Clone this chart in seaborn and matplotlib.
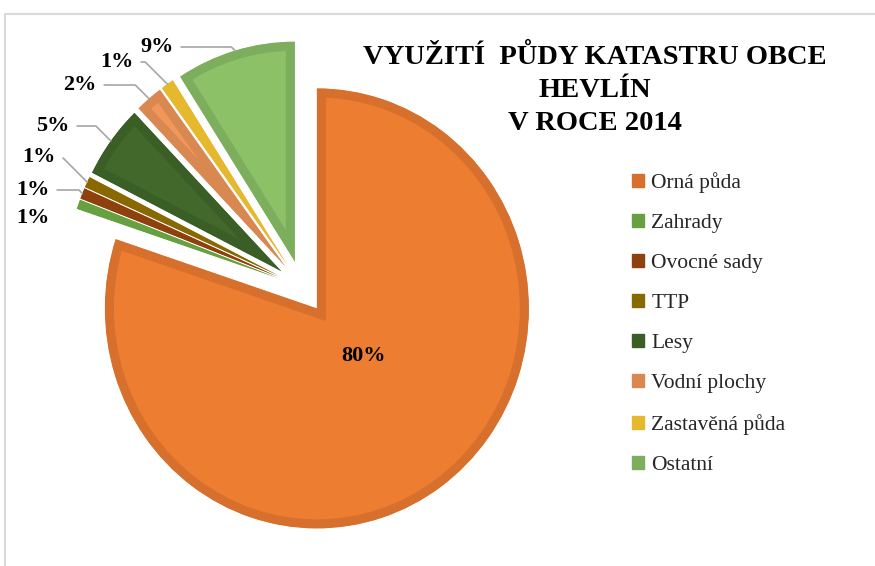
import matplotlib
matplotlib.use("Agg")
import matplotlib.pyplot as plt
from matplotlib.patches import Patch, Rectangle
import numpy as np
import seaborn as sns

# --- Data (shares in %) ---
categories = ["Orná půda", "Zahrady", "Ovocné sady", "TTP", "Lesy",
              "Vodní plochy", "Zastavěná půda", "Ostatní"]
shares = [80.1, 0.7, 0.8, 0.8, 5.4, 2.1, 1.0, 9.1]
fill_colors = ["#ED7D31", "#70AD47", "#9E480E", "#997300", "#43682B",
               "#F1975A", "#EFBF36", "#8CC168"]
edge_colors = ["#D6702C", "#66A040", "#8F410D", "#8A6800", "#3B5E26",
               "#DA8852", "#E6B82E", "#7DAE5E"]
title = "VYUŽITÍ  PŮDY KATASTRU OBCE\nHEVLÍN\nV ROCE 2014"

# label positions (pixels from top-left of the picture)
label_px = [(364, 356), (33, 218), (33, 190), (39, 157), (53, 126),
            (80, 85), (117, 62), (157, 47)]
no_leader = {"Orná půda", "Zahrady"}

# --- Layout ---
W, H = 875, 566
CX, CY = 302, 287   # pie centre in pixels
SX, SY = 212, 220   # pixels per radius unit (source pie is slightly squeezed)

sns.set_theme(style="white")
plt.rcParams["font.family"] = ["Liberation Serif", "DejaVu Serif"]

fig = plt.figure(figsize=(W / 100, H / 100), dpi=100)
ax = fig.add_axes([0, 0, 1, 1])

wedges, _ = ax.pie(
    shares,
    colors=fill_colors,
    startangle=90,
    counterclock=False,
    explode=[0.12] * len(shares),
    radius=1,
    wedgeprops=dict(linewidth=13),
)
# thick darker outline, kept inside each slice
for w, ec in zip(wedges, edge_colors):
    w.set_edgecolor(ec)
    w.set_clip_path(w)
    w.set_clip_on(True)

ax.set_aspect("auto")
ax.set_xlim(-CX / SX, (W - CX) / SX)
ax.set_ylim((CY - H) / SY, CY / SY)
ax.axis("off")


def to_data(x, y):
    return (x - CX) / SX, (CY - y) / SY


# --- Data labels with leader lines ---
for w, cat, v, (lx, ly) in zip(wedges, categories, shares, label_px):
    mid = np.deg2rad((w.theta1 + w.theta2) / 2)
    tip = (w.center[0] + w.r * np.cos(mid), w.center[1] + w.r * np.sin(mid))
    arrow = None
    if cat not in no_leader:
        arrow = dict(arrowstyle="-", color="#A6A6A6", lw=1.2,
                     connectionstyle="angle,angleA=0,angleB=-45,rad=0",
                     shrinkA=3, shrinkB=0)
    ax.annotate(f"{v:.0f}%", xy=tip, xytext=to_data(lx, ly),
                ha="center", va="center", fontsize=16, fontweight="bold",
                color="black", arrowprops=arrow)

# --- Title ---
fig.text(595 / W, 1 - 90 / H, title, ha="center", va="center",
         fontsize=20.5, fontweight="bold", linespacing=1.42, color="black")

# --- Legend ---
handles = [Patch(facecolor=c, edgecolor=c) for c in edge_colors]
fig.legend(handles, categories, loc="upper left",
           bbox_to_anchor=(632 / W, 1 - 172 / H), frameon=False,
           fontsize=15.5, handlelength=0.56, handleheight=0.56,
           handletextpad=0.33, labelspacing=0.97, borderaxespad=0,
           borderpad=0)

# chart area border (only left and top visible in the source)
fig.add_artist(Rectangle((5 / W, -0.1), 1.2, (H - 14) / H + 0.1,
                         transform=fig.transFigure, fill=False,
                         edgecolor="#D9D9D9", linewidth=1.5))

fig.savefig("out.png", dpi=100)
